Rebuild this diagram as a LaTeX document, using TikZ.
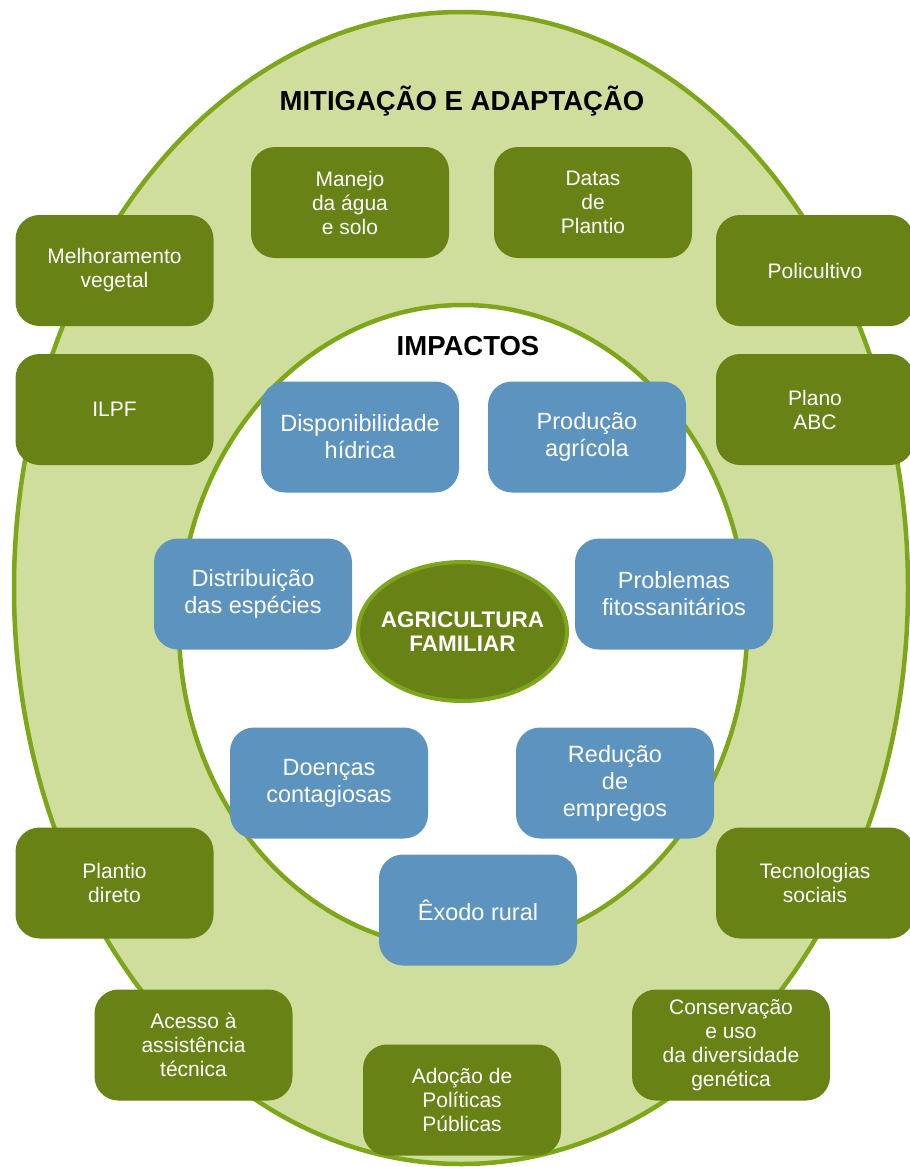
\documentclass[tikz,border=0pt]{standalone}
\usepackage{fontspec}
\setmainfont{Liberation Sans}
\usetikzlibrary{shapes.geometric}
\definecolor{lightgreen}{HTML}{D0DE9D}
\definecolor{ringgreen}{HTML}{7DA61A}
\definecolor{olive}{HTML}{688216}
\definecolor{bluebox}{HTML}{5D94BF}
\tikzset{
  gbox/.style={rectangle, rounded corners=24pt, fill=olive, text=white,
    minimum width=198pt, minimum height=111pt, align=center,
    font=\fontsize{21pt}{24pt}\selectfont, inner sep=0pt},
  bbox/.style={rectangle, rounded corners=24pt, fill=bluebox, text=white,
    minimum width=198pt, minimum height=111pt, align=center,
    font=\fontsize{23.5pt}{27pt}\selectfont, inner sep=0pt},
  ttl/.style={font=\bfseries\fontsize{27.5pt}{30pt}\selectfont, text=black, inner sep=0pt},
  centerlabel/.style={text=white, align=center, inner sep=0pt,
    font=\bfseries\fontsize{22.5pt}{24pt}\selectfont},
}
\begin{document}
\begin{tikzpicture}[x=1pt,y=-1pt]
\useasboundingbox (0,0) rectangle (910,1167);
\fill[white] (0,0) rectangle (910,1167);
% outer ring
\draw[line width=4.5pt, draw=ringgreen, fill=lightgreen] (461,588) ellipse [x radius=447pt, y radius=576pt];
% inner
\draw[line width=4.5pt, draw=ringgreen, fill=white] (463,627) ellipse [x radius=284pt, y radius=322pt];
% titles
\node[ttl] (t1) at (462,101) {MITIGAÇÃO E ADAPTAÇÃO};
\node[ttl] (t2) at (468,346) {IMPACTOS};
% center
\node[ellipse, draw=ringgreen, line width=4pt, fill=olive, minimum width=209pt, minimum height=139pt, inner sep=0pt,
  label={[centerlabel]center:AGRICULTURA\\FAMILIAR}] (c) at (462.5,631.5) {};
% green boxes
\node[gbox] (g1) at (350,202.5) {Manejo\\da água\\e solo};
\node[gbox] (g2) at (593,202.5) {Datas\\de\\Plantio};
\node[gbox] (g3) at (114.5,270.5) {Melhoramento\\vegetal};
\node[gbox] (g4) at (815,270.5) {Policultivo};
\node[gbox] (g5) at (114.5,409.5) {ILPF};
\node[gbox] (g6) at (815,409.5) {Plano\\ABC};
\node[gbox] (g7) at (114.5,883) {Plantio\\direto};
\node[gbox] (g8) at (815,883) {Tecnologias\\sociais};
\node[gbox] (g9) at (193.5,1045) {Acesso à\\assistência\\técnica};
\node[gbox] (g10) at (462,1100) {Adoção de\\Políticas\\Públicas};
\node[gbox] (g11) at (731,1045) {Conservação\\e uso\\da diversidade\\genética};
% blue boxes
\node[bbox] (b1) at (360,437) {Disponibilidade\\hídrica};
\node[bbox] (b2) at (587,437) {Produção\\agrícola};
\node[bbox] (b3) at (253,594) {Distribuição\\das espécies};
\node[bbox] (b4) at (674,594) {Problemas\\fitossanitários};
\node[bbox] (b5) at (329,783) {Doenças\\contagiosas};
\node[bbox] (b6) at (615,783) {Redução\\de\\empregos};
\node[bbox] (b7) at (478,910) {Êxodo rural};
\end{tikzpicture}
\end{document}
